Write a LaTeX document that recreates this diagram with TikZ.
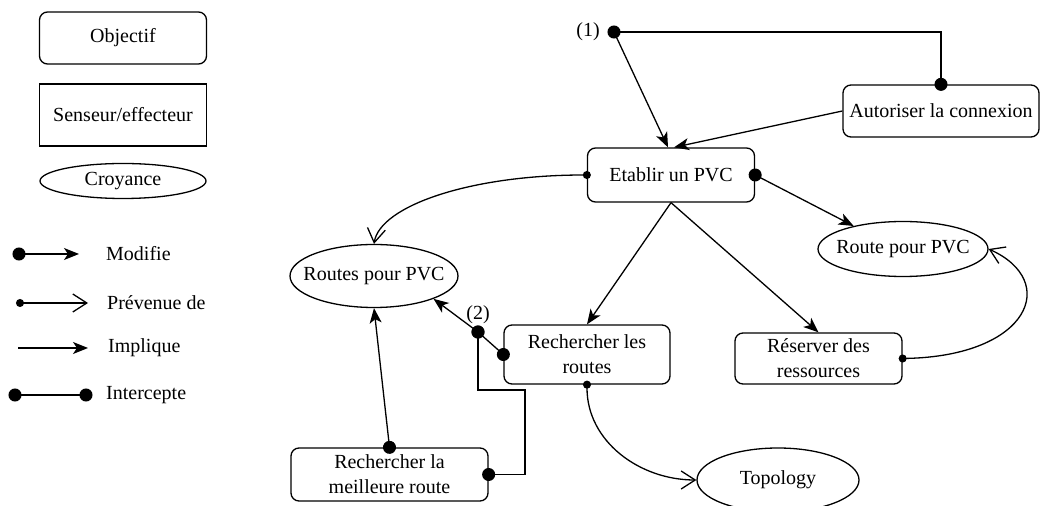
\documentclass[tikz,border=0pt]{standalone}
\usepackage{fontspec}
\setmainfont{Liberation Serif}
\usetikzlibrary{arrows.meta,shapes.geometric}

\tikzset{
  lnk/.style={line width=1.3pt},
  bigdot/.tip={Circle[length=13pt]},
  smalldot/.tip={Circle[length=8pt]},
  fillhead/.tip={Stealth[length=15pt,width=12pt,inset=4pt]},
  openhead/.tip={Straight Barb[length=14pt,width=18pt]},
  modifie/.style={lnk, {bigdot}-{fillhead}, shorten <=-6.5pt},
  prevenue/.style={lnk, {smalldot}-{openhead}, shorten <=-4pt},
  implique/.style={lnk, -{fillhead}},
  intercepte/.style={lnk, {bigdot}-{bigdot}, shorten <=-6.5pt, shorten >=-6.5pt},
  txt/.style={font=\fontsize{20}{25}\selectfont, inner sep=0pt},
  goal/.style={txt, draw, line width=1.3pt, rounded corners=8pt, align=center},
  sensor/.style={txt, draw, line width=1.3pt, align=center},
  belief/.style={draw, line width=1.3pt, ellipse, inner sep=0pt, label={[txt]center:#1}},
}

\begin{document}
\begin{tikzpicture}[x=1pt,y=1pt]
\useasboundingbox (0,0) rectangle (1042,506);

% ---- legend: node kinds
\node[goal, minimum width=167pt, minimum height=52pt] (lgoal) at (123,468) {Objectif};
\node[sensor, minimum width=167pt, minimum height=62pt] (lsens) at (123,391) {Senseur/effecteur};
\node[belief=Croyance, minimum width=166pt, minimum height=35pt] (lbel) at (123,325) {};

% ---- legend: link kinds
\coordinate (ma) at (19,252);  \coordinate (mb) at (79,252);
\coordinate (pa) at (20,203);  \coordinate (pb) at (88,203);
\coordinate (ia) at (18,158);  \coordinate (ib) at (88,158);
\coordinate (xa) at (15,111);  \coordinate (xb) at (86,111);
\draw[modifie] (ma) -- (mb);
\draw[prevenue] (pa) -- (pb);
\draw[implique] (ia) -- (ib);
\draw[intercepte] (xa) -- (xb);
\node[txt, anchor=west] (tm) at (106,252) {Modifie};
\node[txt, anchor=west] (tp) at (107,203) {Prévenue de};
\node[txt, anchor=west] (ti) at (108,158) {Implique};
\node[txt, anchor=west] (tx) at (106,111) {Intercepte};

% ---- goals
\node[goal, minimum width=196pt, minimum height=52pt] (auto) at (941,395) {Autoriser la connexion};
\node[goal, minimum width=167pt, minimum height=54pt] (etab) at (671,331) {Etablir un PVC};
\node[goal, minimum width=166pt, minimum height=59pt] (rech) at (587,151.5) {Rechercher les\\routes};
\node[goal, minimum width=167pt, minimum height=51pt] (res) at (818.5,147.5) {Réserver des\\ressources};
\node[goal, minimum width=197pt, minimum height=53pt] (best) at (389.5,31.5) {Rechercher la\\meilleure route};

% ---- beliefs
\node[belief=Route pour PVC, minimum width=170pt, minimum height=55pt] (one) at (903,257) {};
\node[belief=Routes pour PVC, minimum width=168pt, minimum height=63pt] (routes) at (374,230) {};
\node[belief=Topology, minimum width=162pt, minimum height=64pt] (topo) at (778,26) {};

% ---- junction points
\coordinate (p1) at (614,474);
\coordinate (p2) at (478,174);
\coordinate (k1) at (525,116);
\node[txt] (l1) at (588,474) {(1)};
\node[txt] (l2) at (478,191) {(2)};

% ---- links
\draw[intercepte] (p1) -| (auto.north);
\draw[implique] (p1) -- ([xshift=-3pt]etab.north);
\draw[implique] (auto.west) -- ([xshift=3pt]etab.north);
\draw[prevenue] (etab.west) .. controls (470,331) and (380,300) .. (routes.north);
\draw[modifie] (etab.east) -- (one.155);
\draw[implique] (etab.south) -- (rech.north);
\draw[implique] (etab.south) -- (res.north);
\draw[prevenue] (res.east) .. controls (1030,150) and (1060,225) .. (one.east);
\draw[intercepte] (rech.west) -- (p2);
\draw[implique] (p2) -- (routes.-21);
\draw[intercepte] (p2) |- (k1) |- (best.east);
\draw[modifie] (best.north) -- (routes.south);
\draw[prevenue] (rech.south) to[out=-90,in=180] (topo.west);
\end{tikzpicture}
\end{document}
